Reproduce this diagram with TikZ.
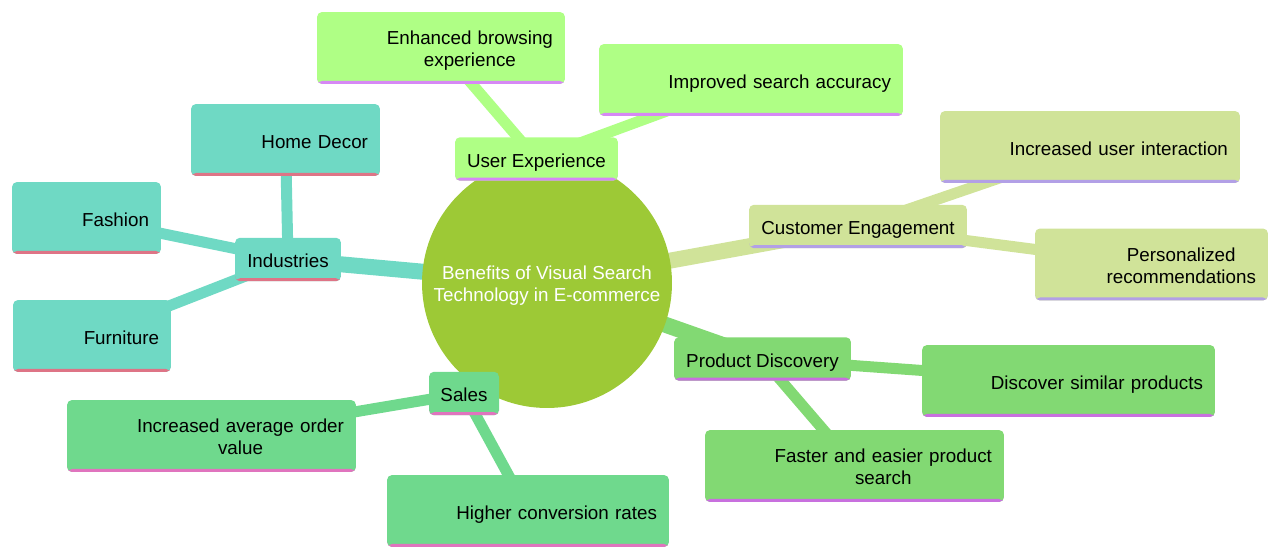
\documentclass[tikz,border=0pt]{standalone}
\usepackage{fontspec}
\setmainfont{Liberation Sans}
\usetikzlibrary{positioning,backgrounds}
\definecolor{rootfill}{RGB}{157,201,54}
\definecolor{indfill}{RGB}{111,217,196}
\definecolor{indline}{RGB}{222,116,134}
\definecolor{uxfill}{RGB}{175,255,133}
\definecolor{uxline}{RGB}{214,136,245}
\definecolor{cefill}{RGB}{208,227,153}
\definecolor{celine}{RGB}{178,160,230}
\definecolor{pdfill}{RGB}{130,217,115}
\definecolor{pdline}{RGB}{200,112,222}
\definecolor{slfill}{RGB}{111,217,141}
\definecolor{slline}{RGB}{224,116,190}
\tikzset{
  mmtext/.style={font=\fontsize{10.7}{12.5}\selectfont, text height=9.3pt, text depth=0pt},
  underline/.style={path picture={\fill[#1] (path picture bounding box.south west) rectangle ([yshift=0.06cm]path picture bounding box.south east);}},
  hub/.style={mmtext, rounded corners=0.1cm, inner sep=0pt, minimum height=0.87cm, align=center},
  leaf/.style={mmtext, rounded corners=0.1cm, inner xsep=0.24cm, inner ysep=0pt, minimum height=1.44cm, align=right, text width=#1},
  stem/.style={line width=0.32cm},
  twig/.style={line width=0.22cm},
  ind/.style={fill=indfill, underline=indline},
  ux/.style={fill=uxfill, underline=uxline},
  ce/.style={fill=cefill, underline=celine},
  pd/.style={fill=pdfill, underline=pdline},
  sl/.style={fill=slfill, underline=slline}
}
\begin{document}
\begin{tikzpicture}[x=0.02cm, y=-0.02cm]
  \useasboundingbox (0,0) rectangle (1280,557);
  \node[circle, fill=rootfill, minimum size=5cm, inner sep=0pt, text=white, mmtext] (root) at (547,283) {\begin{tabular}{@{}c@{}}Benefits of Visual Search\\Technology in E-commerce\end{tabular}};

  \node[hub, ind, minimum width=2.12cm] (ind) at (288,259.5) {Industries};
  \node[leaf=3.30cm, ind] (decor) at (285.5,140) {Home Decor};
  \node[leaf=2.50cm, ind] (fashion) at (86.5,218) {Fashion};
  \node[leaf=2.68cm, ind] (furn) at (92,336) {Furniture};

  \node[hub, ux, minimum width=3.26cm] (ux) at (536.5,159) {User Experience};
  \node[leaf=4.48cm, ux] (browse) at (441,48) {\begin{tabular}{@{}c@{}}Enhanced browsing\\experience\end{tabular}};
  \node[leaf=5.60cm, ux] (accuracy) at (751,80) {Improved search accuracy};

  \node[hub, ce, minimum width=4.36cm] (engage) at (858,226.5) {Customer Engagement};
  \node[leaf=5.52cm, ce] (interact) at (1090,147) {Increased user interaction};
  \node[leaf=4.18cm, ce] (recom) at (1151.5,264.5) {\begin{tabular}{@{}c@{}}Personalized\\recommendations\end{tabular}};

  \node[hub, pd, minimum width=3.54cm] (disc) at (762.5,359) {Product Discovery};
  \node[leaf=5.38cm, pd] (similar) at (1068.5,381) {Discover similar products};
  \node[leaf=5.50cm, pd] (faster) at (854.5,466) {\begin{tabular}{@{}c@{}}Faster and easier product\\search\end{tabular}};

  \node[hub, sl, minimum width=1.40cm] (sales) at (464,393.5) {Sales};
  \node[leaf=5.30cm, sl] (aov) at (211.5,436) {\begin{tabular}{@{}c@{}}Increased average order\\value\end{tabular}};
  \node[leaf=5.16cm, sl] (conv) at (528,511) {Higher conversion rates};

  \begin{scope}[on background layer]
    \draw[stem, indfill] (root.center) -- (ind.center);
    \draw[twig, indfill] (ind.center) -- (decor.center);
    \draw[twig, indfill] (ind.center) -- (fashion.center);
    \draw[twig, indfill] (ind.center) -- (furn.center);
    \draw[stem, uxfill] (root.center) -- (ux.center);
    \draw[twig, uxfill] (ux.center) -- (browse.center);
    \draw[twig, uxfill] (ux.center) -- (accuracy.center);
    \draw[stem, cefill] (root.center) -- (engage.center);
    \draw[twig, cefill] (engage.center) -- (interact.center);
    \draw[twig, cefill] (engage.center) -- (recom.center);
    \draw[stem, pdfill] (root.center) -- (disc.center);
    \draw[twig, pdfill] (disc.center) -- (similar.center);
    \draw[twig, pdfill] (disc.center) -- (faster.center);
    \draw[stem, slfill] (root.center) -- (sales.center);
    \draw[twig, slfill] (sales.center) -- (aov.center);
    \draw[twig, slfill] (sales.center) -- (conv.center);
  \end{scope}
\end{tikzpicture}
\end{document}
